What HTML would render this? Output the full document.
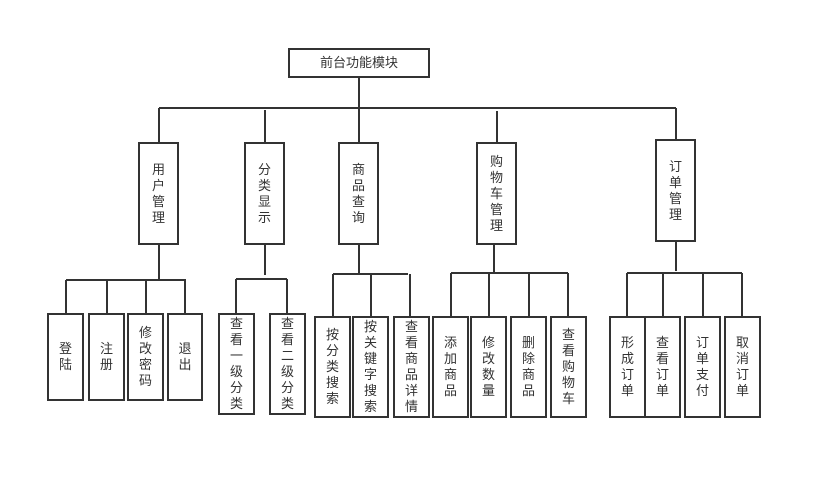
<!DOCTYPE html>
<html><head><meta charset="utf-8"><style>
body{margin:0;width:821px;height:479px;background:#fff;position:relative;overflow:hidden;font-family:"Liberation Sans","Noto Sans CJK SC",sans-serif;color:#333}
.b{position:absolute;box-sizing:border-box;border:2px solid #333;display:flex;align-items:center;justify-content:center;text-align:center;font-size:13px;line-height:16px;background:#fff}
svg{position:absolute;left:0;top:0}
</style></head><body>
<svg width="821" height="479"><g stroke="#333" stroke-width="2" fill="none">
<path d="M359 77V108M159 108H676M159 108V143M265 110V143M359 108V143M497 111V143M676 108V140"/>
<path d="M159 244V280M66 280H186M66 280V314M107 280V314M146 280V314M185 280V314"/>
<path d="M265 244V275M236 279H287M236 279V314M287 279V314"/>
<path d="M359 244V275M333 274H408M333 274V317M371 274V317M410 274V317"/>
<path d="M494 244V274M451 273H568M451 273V317M489 273V317M529 273V317M568 273V317"/>
<path d="M676 241V271M627 273H742M627 273V317M663 273V317M703 273V317M742 273V317"/>
</g></svg>
<div class="b" style="left:288px;top:48px;width:142px;height:30px">前台功能模块</div>
<div class="b" style="left:138px;top:142px;width:41px;height:103px">用<br>户<br>管<br>理</div>
<div class="b" style="left:244px;top:142px;width:41px;height:103px">分<br>类<br>显<br>示</div>
<div class="b" style="left:338px;top:142px;width:41px;height:103px">商<br>品<br>查<br>询</div>
<div class="b" style="left:476px;top:142px;width:41px;height:103px">购<br>物<br>车<br>管<br>理</div>
<div class="b" style="left:655px;top:139px;width:41px;height:103px">订<br>单<br>管<br>理</div>

<div class="b" style="left:47px;top:313px;width:37px;height:88px">登<br>陆</div>
<div class="b" style="left:88px;top:313px;width:37px;height:88px">注<br>册</div>
<div class="b" style="left:127px;top:313px;width:37px;height:88px">修<br>改<br>密<br>码</div>
<div class="b" style="left:167px;top:313px;width:36px;height:88px">退<br>出</div>

<div class="b" style="left:218px;top:313px;width:37px;height:102px">查<br>看<br>一<br>级<br>分<br>类</div>
<div class="b" style="left:269px;top:313px;width:37px;height:102px">查<br>看<br>二<br>级<br>分<br>类</div>

<div class="b" style="left:314px;top:316px;width:37px;height:102px">按<br>分<br>类<br>搜<br>索</div>
<div class="b" style="left:352px;top:316px;width:37px;height:102px">按<br>关<br>键<br>字<br>搜<br>索</div>
<div class="b" style="left:393px;top:316px;width:37px;height:102px">查<br>看<br>商<br>品<br>详<br>情</div>

<div class="b" style="left:432px;top:316px;width:37px;height:102px">添<br>加<br>商<br>品</div>
<div class="b" style="left:470px;top:316px;width:37px;height:102px">修<br>改<br>数<br>量</div>
<div class="b" style="left:510px;top:316px;width:37px;height:102px">删<br>除<br>商<br>品</div>
<div class="b" style="left:550px;top:316px;width:37px;height:102px">查<br>看<br>购<br>物<br>车</div>

<div class="b" style="left:609px;top:316px;width:37px;height:102px">形<br>成<br>订<br>单</div>
<div class="b" style="left:644px;top:316px;width:37px;height:102px">查<br>看<br>订<br>单</div>
<div class="b" style="left:684px;top:316px;width:37px;height:102px">订<br>单<br>支<br>付</div>
<div class="b" style="left:724px;top:316px;width:37px;height:102px">取<br>消<br>订<br>单</div>
</body></html>
